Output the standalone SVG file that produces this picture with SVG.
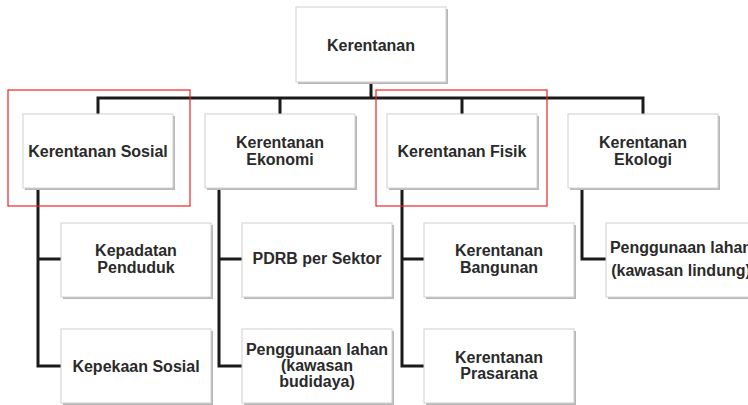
<svg xmlns="http://www.w3.org/2000/svg" width="748" height="405" viewBox="0 0 748 405">
<style>
.box{fill:#fff;stroke:#d0d0d0;stroke-width:1}
.sh{fill:#b8b8b8}
.t{font-family:"Liberation Sans",Arial,sans-serif;font-weight:bold;font-size:16px;fill:#2a2a2a;text-anchor:middle}
.c{fill:none;stroke:#1a1a1a;stroke-width:3;stroke-linejoin:miter}
.red{fill:none;stroke:#ee2222;stroke-width:1.2}
</style>
<rect width="748" height="405" fill="#fff"/>
<g id="connectors">
<path class="c" d="M371 82V98M98 114V98H643V114M280 98V114M462 98V114"/>
<path class="c" d="M38 188V366H61M38 259H61"/>
<path class="c" d="M219 188V366H242M219 259H242"/>
<path class="c" d="M402 188V366H424M402 259H424"/>
<path class="c" d="M582 188V259H606"/>
</g>
<g id="n-kerentanan"><rect class="sh" x="298" y="9" width="150" height="75"/><rect class="box" x="296" y="7" width="150" height="75"/><text class="t" x="371" y="51">Kerentanan</text></g>
<g id="n-sosial"><rect class="sh" x="25" y="116" width="150" height="74"/><rect class="box" x="23" y="114" width="150" height="74"/><text class="t" x="98" y="157">Kerentanan Sosial</text></g>
<g id="n-ekonomi"><rect class="sh" x="207" y="116" width="150" height="74"/><rect class="box" x="205" y="114" width="150" height="74"/><text class="t" x="280" y="148">Kerentanan</text><text class="t" x="280" y="165">Ekonomi</text></g>
<g id="n-fisik"><rect class="sh" x="389" y="116" width="150" height="74"/><rect class="box" x="387" y="114" width="150" height="74"/><text class="t" x="462" y="157">Kerentanan Fisik</text></g>
<g id="n-ekologi"><rect class="sh" x="570" y="116" width="150" height="74"/><rect class="box" x="568" y="114" width="150" height="74"/><text class="t" x="643" y="148">Kerentanan</text><text class="t" x="643" y="165">Ekologi</text></g>
<g id="n-kepadatan"><rect class="sh" x="63" y="225" width="150" height="74"/><rect class="box" x="61" y="223" width="150" height="74"/><text class="t" x="136" y="256">Kepadatan</text><text class="t" x="136" y="273">Penduduk</text></g>
<g id="n-kepekaan"><rect class="sh" x="63" y="331" width="150" height="74"/><rect class="box" x="61" y="329" width="150" height="74"/><text class="t" x="136" y="372">Kepekaan Sosial</text></g>
<g id="n-pdrb"><rect class="sh" x="244" y="225" width="150" height="74"/><rect class="box" x="242" y="223" width="150" height="74"/><text class="t" x="317" y="264">PDRB per Sektor</text></g>
<g id="n-budidaya"><rect class="sh" x="244" y="331" width="150" height="74"/><rect class="box" x="242" y="329" width="150" height="74"/><text class="t" x="317" y="355">Penggunaan lahan</text><text class="t" x="317" y="371">(kawasan</text><text class="t" x="317" y="387">budidaya)</text></g>
<g id="n-bangunan"><rect class="sh" x="426" y="225" width="150" height="74"/><rect class="box" x="424" y="223" width="150" height="74"/><text class="t" x="499" y="256">Kerentanan</text><text class="t" x="499" y="273">Bangunan</text></g>
<g id="n-prasarana"><rect class="sh" x="426" y="331" width="150" height="74"/><rect class="box" x="424" y="329" width="150" height="74"/><text class="t" x="499" y="363">Kerentanan</text><text class="t" x="499" y="379">Prasarana</text></g>
<g id="n-lindung"><rect class="sh" x="608" y="225" width="150" height="74"/><rect class="box" x="606" y="223" width="150" height="74"/><text class="t" x="681" y="253">Penggunaan lahan</text><text class="t" x="681" y="276">(kawasan lindung)</text></g>
<g id="highlights"><rect class="red" x="8" y="90" width="182" height="116"/><rect class="red" x="376" y="90" width="171" height="116"/></g>
</svg>
